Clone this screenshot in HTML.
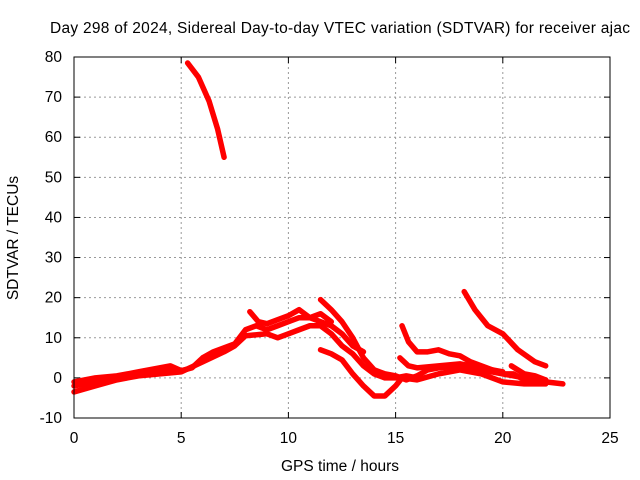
<!DOCTYPE html>
<html><head><meta charset="utf-8"><style>
body{margin:0;background:#fff;}
svg{display:block;font-family:"Liberation Sans",sans-serif;font-size:15.5px;}
</style></head><body>
<svg id="chart" width="640" height="480">
<text x="50" y="33" textLength="580">Day 298 of 2024, Sidereal Day-to-day VTEC variation (SDTVAR) for receiver ajac</text>
<g id="grid"></g><g id="ticks"></g><g id="series"></g>
<rect x="74" y="57" width="536" height="361" fill="none" stroke="#000" stroke-width="1"/>
<text x="340" y="471" text-anchor="middle">GPS time / hours</text>
<text transform="translate(18,238) rotate(-90)" text-anchor="middle">SDTVAR / TECUs</text>
</svg>
<script>
const xTicks=[0,5,10,15,20,25];
const yTicks=[-10,0,10,20,30,40,50,60,70,80];
const trackTop=[[5.3,78.5],[5.8,75],[6.3,69],[6.7,62],[7.0,55]];
const trackBandUpper=[[0,-1],[1,0],[2,0.5],[3,1.5],[4,2.5],[4.5,3],[5,1.8],[5.5,2.5],[6,5],[6.5,6.5],[7,7.5],[7.5,8.5],[8,12],[8.5,13],[9,12],[9.5,13],[10,14],[10.5,15],[11,15],[11.5,14],[12,13],[12.5,11],[13,8],[13.5,6.5]];
const trackBandLower=[[0,-3.5],[1,-2],[2,-0.5],[3,0.5],[4,1],[5,1.5],[6,4],[7,6.5],[7.5,8],[8,10.5],[9,11],[9.5,10],[10,11],[10.5,12],[11,13],[11.5,13],[12,11],[12.5,8],[13,6],[13.5,3],[14,1],[14.5,0],[15,0],[15.5,0.5],[16,0]];
const trackMid=[[0,-2],[1,-1],[2,0],[3,1],[4,1.8],[5,1.6]];
const trackFall=[[11.5,19.5],[12,17],[12.5,14],[13,10],[13.5,5],[14,2],[14.5,1],[15,0.5],[15.5,-0.5],[16,0.5],[16.5,2],[17,2.5],[18,3],[19,2],[20,1],[21,0],[22,-1],[22.8,-1.5]];
const trackDip=[[11.5,7],[12,6],[12.5,4.5],[13,1],[13.5,-2],[14,-4.5],[14.5,-4.5],[15,-2],[15.3,0],[16,-0.5],[17,1],[18,2],[19,1],[20,-1],[21,-1.5],[22,-1.5]];
const trackLate=[[15.3,13],[15.6,9],[16,6.5],[16.5,6.5],[17,7],[17.5,6],[18,5.5],[18.5,4],[19,3],[19.5,2],[20,1],[20.5,1],[21,-0.5],[22,-0.5]];
const trackLate2=[[15.2,5],[15.6,3],[16,2.5],[17,3],[18,3.5],[19,2.5],[20,1.5]];
const trackHigh=[[18.2,21.5],[18.7,17],[19.3,13],[20,11],[20.7,7],[21.5,4],[22,3]];
const trackEnd=[[20.4,3],[21,1],[21.5,0.5],[22,-0.5]];
const trackNoon=[[8.2,16.5],[8.6,14],[9,13.5],[9.5,14.5],[10,15.5],[10.5,17],[11,15],[11.5,16],[12,14]];
const tracks=[trackTop,trackBandUpper,trackBandLower,trackMid,trackFall,trackDip,trackLate,trackLate2,trackHigh,trackEnd,trackNoon];
const X=v=>74+(v-0)*536/25, Y=v=>418-(v+10)*361/90;
const NS="http://www.w3.org/2000/svg";
const g=document.getElementById('grid'),t=document.getElementById('ticks'),s=document.getElementById('series');
function mk(tag,a,p){const e=document.createElementNS(NS,tag);for(const k in a)e.setAttribute(k,a[k]);p.appendChild(e);return e;}
xTicks.forEach(v=>{
 if(v>0&&v<25){const l=mk('line',{x1:X(v),x2:X(v),y1:57,y2:418,stroke:'#999','stroke-dasharray':'2,3'},g);
 
 }
 mk('line',{x1:X(v),x2:X(v),y1:418,y2:412,stroke:'#000'},t);
 mk('line',{x1:X(v),x2:X(v),y1:57,y2:63,stroke:'#000'},t);
 const tx=mk('text',{x:X(v),y:443,'text-anchor':'middle'},t);tx.textContent=v;
 
 
});
yTicks.forEach(v=>{
 if(v>-10&&v<80){const l=mk('line',{x1:74,x2:610,y1:Y(v),y2:Y(v),stroke:'#999','stroke-dasharray':'2,3'},g);
 
 }
 mk('line',{x1:74,x2:80,y1:Y(v),y2:Y(v),stroke:'#000'},t);
 mk('line',{x1:610,x2:604,y1:Y(v),y2:Y(v),stroke:'#000'},t);
 const tx=mk('text',{x:62,y:Y(v)+5,'text-anchor':'end'},t);tx.textContent=v;
 
 
});
tracks.forEach(tr=>{
 const pl=mk('polyline',{points:tr.map(p=>X(p[0])+','+Y(p[1])).join(' '),fill:'none',stroke:'#f00','stroke-width':5.5,'stroke-linejoin':'round','stroke-linecap':'round'},s);
 
 
});
</script>
</body></html>
